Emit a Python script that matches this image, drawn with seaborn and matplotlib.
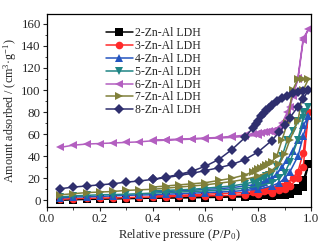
import numpy as np
import pandas as pd
import matplotlib
matplotlib.use("Agg")
import matplotlib.pyplot as plt
import seaborn as sns

# adsorption branch, then desorption branch (P/P0, amount)
x_ads = [0.05, 0.1, 0.15, 0.2, 0.25, 0.3, 0.35, 0.4, 0.45, 0.5, 0.55, 0.6, 0.65, 0.7, 0.75,
         0.8, 0.85, 0.88, 0.9, 0.92, 0.95, 0.97, 0.99]
x_des = [0.97, 0.95, 0.93, 0.91, 0.89, 0.87, 0.85, 0.84, 0.83, 0.82, 0.81, 0.8, 0.79, 0.78,
         0.75, 0.7, 0.65, 0.6, 0.55, 0.5, 0.45, 0.4]

ads_2 = [0.0, 0.5, 0.8, 1.0, 1.2, 1.5, 1.7, 2.0, 2.0, 2.1, 2.3, 2.5, 2.7, 3.0, 3.0,
         3.5, 4.0, 4.5, 5.0, 6.0, 8.0, 12.0, 33.0]
des_2 = [18.0, 11.0, 9.0, 7.0, 6.0, 5.5, 5.0, 5.0, 4.8, 4.6, 4.5, 4.5, 4.4, 4.3,
         4.0, 3.8, 3.5, 3.3, 3.0, 3.0, 2.8, 2.5]

ads_3 = [1.0, 1.5, 1.8, 2.0, 2.2, 2.5, 2.8, 3.0, 3.2, 3.5, 3.8, 4.0, 4.2, 4.5, 5.0,
         6.0, 7.0, 9.0, 10.0, 13.0, 20.0, 30.0, 80.0]
des_3 = [43.0, 26.0, 20.0, 16.0, 13.0, 11.0, 10.0, 9.5, 9.0, 8.5, 8.2, 8.0, 7.8, 7.5,
         7.0, 6.5, 6.0, 5.5, 5.0, 4.5, 4.2, 4.0]

ads_4 = [2.0, 3.0, 3.2, 3.5, 4.0, 4.5, 4.8, 5.0, 5.5, 6.0, 6.5, 7.0, 7.5, 8.0, 9.0,
         10.0, 13.0, 16.0, 20.0, 26.0, 40.0, 58.0, 76.0]
des_4 = [68.0, 55.0, 45.0, 37.0, 30.0, 24.0, 20.0, 19.0, 18.0, 17.0, 16.0, 15.0, 14.5, 14.0,
         13.0, 11.5, 10.5, 10.0, 9.0, 8.5, 8.0, 7.5]

ads_5 = [3.0, 4.0, 4.5, 5.0, 5.2, 5.5, 6.0, 6.5, 7.0, 7.5, 8.0, 8.5, 9.2, 10.0, 11.0,
         13.0, 16.0, 20.0, 25.0, 35.0, 55.0, 75.0, 85.0]
des_5 = [80.0, 72.0, 63.0, 55.0, 40.0, 30.0, 25.0, 23.0, 22.0, 20.0, 19.0, 18.0, 17.0, 16.5,
         15.0, 13.0, 12.0, 11.0, 10.0, 9.5, 9.0, 8.5]

ads_6 = [48.0, 50.0, 51.0, 51.5, 52.0, 52.5, 53.0, 54.0, 54.5, 55.0, 55.5, 56.0, 56.5, 57.0, 58.0,
         59.0, 62.0, 66.0, 72.0, 85.0, 110.0, 145.0, 155.0]
des_6 = [147.0, 111.0, 95.0, 80.0, 70.0, 65.0, 63.0, 62.5, 62.0, 61.5, 61.0, 61.0, 60.5, 60.0,
         59.0, 58.0, 57.0, 56.5, 56.0, 55.5, 55.0, 54.5]

ads_7 = [5.0, 6.0, 7.0, 7.5, 8.0, 9.0, 9.5, 10.0, 11.0, 12.0, 13.0, 14.0, 15.5, 17.0, 19.0,
         22.0, 27.0, 33.0, 42.0, 55.0, 72.0, 100.0, 110.0]
des_7 = [110.0, 110.0, 100.0, 70.0, 55.0, 40.0, 35.0, 33.0, 32.0, 30.0, 29.0, 28.0, 27.0, 26.0,
         23.0, 20.0, 18.0, 16.0, 15.0, 14.0, 13.0, 12.0]

ads_8 = [10.5, 12.0, 13.0, 14.0, 15.0, 16.5, 17.5, 19.0, 20.5, 22.5, 24.5, 27.0, 29.5, 32.5, 37.0,
         44.0, 54.0, 62.0, 68.0, 75.0, 85.0, 92.0, 100.0]
des_8 = [99.0, 98.0, 97.0, 95.0, 93.0, 90.0, 86.0, 84.0, 82.0, 79.0, 76.0, 72.0, 69.0, 66.0,
         57.0, 46.0, 37.0, 31.0, 26.5, 23.5, 21.0, 19.0]

labels = ["2-Zn-Al LDH", "3-Zn-Al LDH", "4-Zn-Al LDH", "5-Zn-Al LDH",
          "6-Zn-Al LDH", "7-Zn-Al LDH", "8-Zn-Al LDH"]
series = [(ads_2, des_2), (ads_3, des_3), (ads_4, des_4), (ads_5, des_5),
          (ads_6, des_6), (ads_7, des_7), (ads_8, des_8)]
colors = ["#000000", "#ff2a2a", "#2455c0", "#1f8585", "#b35fc0", "#80803a", "#2f2f6e"]
markers = ["s", "o", "^", "v", "<", ">", "D"]

sns.set_style("ticks")
plt.rcParams["font.family"] = ["Liberation Serif", "DejaVu Serif"]
plt.rcParams["mathtext.fontset"] = "custom"
plt.rcParams["mathtext.rm"] = "Liberation Serif"
plt.rcParams["mathtext.it"] = "Liberation Serif:italic"

fig = plt.figure(figsize=(3.36, 2.49), dpi=100)
ax = fig.add_axes([0.14, 0.169, 0.786, 0.775])

for lab, (ads, des), c, m in zip(labels, series, colors, markers):
    df = pd.DataFrame({"x": x_ads + x_des, "y": ads + des})
    sns.lineplot(data=df, x="x", y="y", sort=False, estimator=None, ax=ax,
                 color=c, marker=m, markersize=5.5 if m != "D" else 4.6,
                 markeredgewidth=0, linewidth=1.1, label=lab)

ax.set_xlim(0, 1.0)
ax.set_ylim(-6, 169)
ax.set_xticks(np.arange(0, 1.01, 0.2))
ax.set_yticks(np.arange(0, 161, 20))
ax.set_xticks(np.arange(0.1, 1.0, 0.2), minor=True)
ax.set_yticks(np.arange(10, 170, 20), minor=True)
ax.tick_params(which="major", direction="out", length=3, width=0.8, labelsize=9.3, pad=1.5)
ax.tick_params(which="minor", direction="out", length=1.8, width=0.6)
for s in ax.spines.values():
    s.set_linewidth(0.9)
    s.set_color("black")
ax.set_xlabel("Relative pressure ($P$/$P_0$)", fontsize=9, labelpad=1.5)
ax.set_ylabel("Amount adsorbed / (cm$^3$·g$^{-1}$)", fontsize=8.7, labelpad=1.5)

leg = ax.legend(loc="upper left", bbox_to_anchor=(0.204, 0.955), frameon=False,
                fontsize=8.5, handlelength=2.3, handletextpad=0.2,
                labelspacing=0.07, borderaxespad=0)

fig.savefig("out.png", dpi=100)
